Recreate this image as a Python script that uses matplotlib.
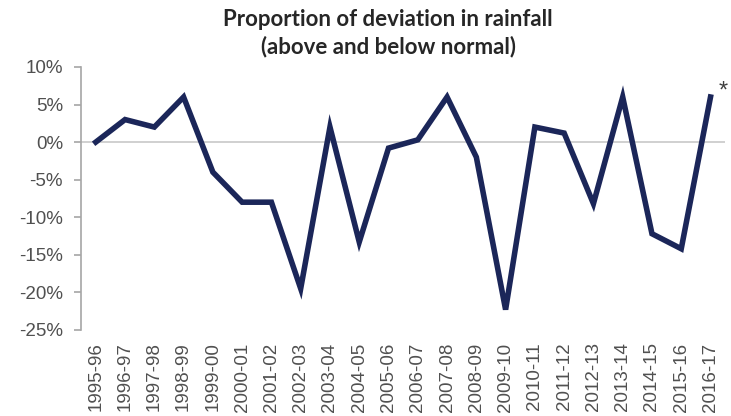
import matplotlib
matplotlib.use("Agg")
import matplotlib.pyplot as plt
from matplotlib.ticker import FuncFormatter

years = ["1995-96", "1996-97", "1997-98", "1998-99", "1999-00", "2000-01",
         "2001-02", "2002-03", "2003-04", "2004-05", "2005-06", "2006-07",
         "2007-08", "2008-09", "2009-10", "2010-11", "2011-12", "2012-13",
         "2013-14", "2014-15", "2015-16", "2016-17"]
deviation = [0, 3, 2, 6, -4, -8, -8, -19.5, 2, -13.3, -0.8, 0.3,
             6, -2, -22.3, 2, 1.2, -8.2, 6, -12.2, -14.2, 6]
y_ticks = [10, 5, 0, -5, -10, -15, -20, -25]

fig = plt.figure(figsize=(7.31, 4.16), dpi=100)
ax = fig.add_axes([0.111, 0.207, 0.881, 0.632])

x = list(range(len(years)))
ax.axhline(0, color="#c8c8c8", lw=1.2, zorder=1)
ax.plot(x, deviation, color="#1b2659", lw=4.0, solid_joinstyle="miter", zorder=3)
ax.annotate("*", xy=(x[-1], deviation[-1]), xytext=(6, 4), textcoords="offset points",
            fontsize=17, color="#404040", family="Liberation Sans", ha="left", va="center")

ax.set_xlim(-0.5, len(years) - 0.5)
ax.set_ylim(-25, 10)
ax.set_yticks(y_ticks)
ax.yaxis.set_major_formatter(FuncFormatter(lambda v, p: f"{v:.0f}%"))
ax.set_xticks(x)
ax.set_xticklabels(years, rotation=90)

for s in ["top", "right", "bottom"]:
    ax.spines[s].set_visible(False)
ax.spines["left"].set_color("#a6a6a6")
ax.spines["left"].set_linewidth(1.2)
ax.tick_params(axis="y", direction="out", length=5, width=1.2, color="#a6a6a6",
               labelsize=13.5, labelcolor="#505050", pad=8)
ax.tick_params(axis="x", length=0, labelsize=13.5, labelcolor="#505050", pad=9)
for lab in ax.get_xticklabels() + ax.get_yticklabels():
    lab.set_family("Liberation Sans")

fig.text(0.531, 0.978, "Proportion of deviation in rainfall\n(above and below normal)",
         ha="center", va="top", fontsize=16, fontweight="bold", family="Lato",
         color="#262626", linespacing=1.3)

fig.savefig("out.png", dpi=100)
